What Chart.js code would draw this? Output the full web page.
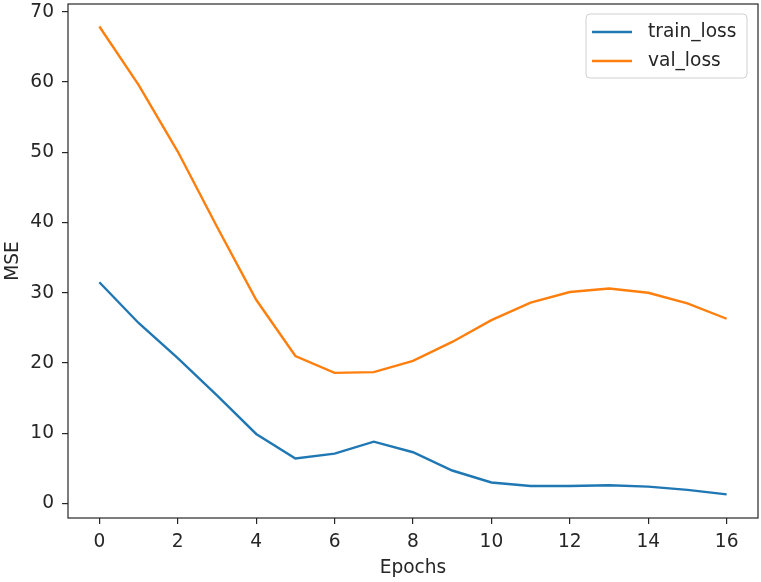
<!DOCTYPE html>
<html>
<head>
<meta charset="utf-8">
<script src="https://cdn.jsdelivr.net/npm/chart.js@4.4.1/dist/chart.umd.min.js"></script>
<style>
  html, body { margin: 0; padding: 0; background: #fff; }
  #wrap { width: 761px; height: 582px; position: relative; }
</style>
</head>
<body>
<div id="wrap"><canvas id="lossChart"></canvas></div>
<script>
// Datos
const epochs = [0, 1, 2, 3, 4, 5, 6, 7, 8, 9, 10, 11, 12, 13, 14, 15, 16];
const trainLoss = [31.5, 25.7, 20.7, 15.4, 9.9, 6.4, 7.1, 8.8, 7.3, 4.7, 3.0, 2.5, 2.5, 2.6, 2.4, 1.95, 1.3];
const valLoss = [67.9, 59.6, 50.1, 39.4, 29.0, 21.0, 18.6, 18.7, 20.3, 23.0, 26.1, 28.6, 30.1, 30.6, 30.0, 28.5, 26.3];
const xTicks = [0, 2, 4, 6, 8, 10, 12, 14, 16];
const yTicks = [0, 10, 20, 30, 40, 50, 60, 70];

const FONT = 'DejaVu Sans';
const INK = '#262626';
const FSIZE = 18.6;

function toPoints(ys) {
    return epochs.map((e, i) => ({ x: e, y: ys[i] }));
}

// Marco completo alrededor del área del gráfico
const framePlugin = {
    id: 'frame',
    afterDatasetsDraw(chart) {
        const { ctx, chartArea: a } = chart;
        ctx.save();
        ctx.strokeStyle = INK;
        ctx.lineWidth = 1.2;
        ctx.strokeRect(a.left, a.top, a.right - a.left, a.bottom - a.top);
        ctx.restore();
    }
};

// Leyenda estilo matplotlib dentro del área (arriba a la derecha)
const boxLegend = {
    id: 'boxLegend',
    afterDraw(chart) {
        const { ctx, chartArea: a } = chart;
        const sets = chart.data.datasets;
        const w = 161, h = 64;
        const x = a.right - 11 - w, y = a.top + 10;
        ctx.save();
        ctx.beginPath();
        ctx.roundRect(x, y, w, h, 4);
        ctx.fillStyle = 'rgba(255,255,255,0.8)';
        ctx.fill();
        ctx.strokeStyle = '#d0d0d0';
        ctx.lineWidth = 1;
        ctx.stroke();
        ctx.font = FSIZE + 'px "' + FONT + '"';
        ctx.textBaseline = 'middle';
        sets.forEach((ds, i) => {
            const cy = y + 18 + i * 29;
            ctx.beginPath();
            ctx.moveTo(x + 6, cy);
            ctx.lineTo(x + 46, cy);
            ctx.strokeStyle = ds.borderColor;
            ctx.lineWidth = 2.4;
            ctx.stroke();
            ctx.fillStyle = INK;
            ctx.fillText(ds.label, x + 62, cy);
        });
        ctx.restore();
    }
};

const axisCommon = {
    grid: { display: true, drawOnChartArea: false, drawTicks: true, tickLength: 6, color: INK, lineWidth: 1.2 },
    border: { display: false },
    ticks: { color: INK, font: { family: FONT, size: FSIZE }, padding: 8, includeBounds: false, stepSize: 10 },
    title: { display: true, color: INK, font: { family: FONT, size: FSIZE } }
};

new Chart(document.getElementById('lossChart'), {
    type: 'line',
    data: {
        datasets: [
            { label: 'train_loss', data: toPoints(trainLoss), borderColor: '#1f77b4', borderWidth: 2.4, pointRadius: 0, tension: 0, fill: false },
            { label: 'val_loss', data: toPoints(valLoss), borderColor: '#ff7f0e', borderWidth: 2.4, pointRadius: 0, tension: 0, fill: false }
        ]
    },
    options: {
        responsive: true,
        maintainAspectRatio: false,
        animation: false,
        devicePixelRatio: 1,
        layout: { padding: { top: 4, right: 3, left: 0, bottom: 0 } },
        plugins: { legend: { display: false }, tooltip: { enabled: false } },
        scales: {
            x: {
                ...axisCommon,
                type: 'linear',
                min: -0.8,
                max: 16.8,
                ticks: { ...axisCommon.ticks, stepSize: 2, padding: 7 },
                afterBuildTicks: s => { s.ticks = xTicks.map(v => ({ value: v })); },
                afterFit: s => { s.height = 64; s.paddingLeft = 0; s.paddingRight = 0; },
                title: { ...axisCommon.title, text: 'Epochs', padding: { top: 0, bottom: 3 } }
            },
            y: {
                ...axisCommon,
                type: 'linear',
                min: -2.06,
                max: 71.1,
                afterBuildTicks: s => { s.ticks = yTicks.map(v => ({ value: v })); },
                afterFit: s => { s.width = 68; s.paddingTop = 0; s.paddingBottom = 0; },
                title: { ...axisCommon.title, text: 'MSE', padding: { top: 2, bottom: 0 } }
            }
        }
    },
    plugins: [framePlugin, boxLegend]
});
</script>
</body>
</html>
